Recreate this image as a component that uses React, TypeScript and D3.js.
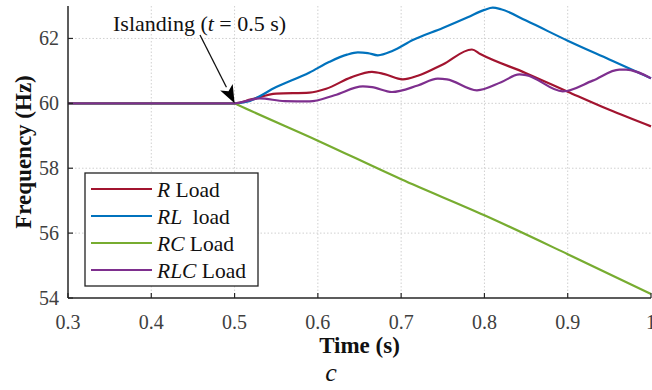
import React from "react";
import * as d3 from "d3";

// Frequency response after islanding for four load types
const tR = [0.3, 0.5, 0.52, 0.55, 0.59, 0.61, 0.64, 0.665, 0.68, 0.702, 0.72, 0.75, 0.785, 0.795, 0.85, 0.9, 0.95, 1.0];
const fR = [60, 60, 60.12, 60.3, 60.33, 60.45, 60.8, 60.97, 60.9, 60.74, 60.85, 61.2, 61.66, 61.52, 60.93, 60.36, 59.8, 59.29];

const tRL = [0.3, 0.5, 0.515, 0.55, 0.59, 0.614, 0.635, 0.648, 0.66, 0.672, 0.69, 0.714, 0.75, 0.78, 0.8, 0.81, 0.82, 0.85, 0.9, 0.95, 1.0];
const fRL = [60, 60, 60.05, 60.5, 60.95, 61.28, 61.5, 61.57, 61.55, 61.48, 61.62, 61.95, 62.32, 62.65, 62.88, 62.95, 62.9, 62.55, 61.93, 61.35, 60.77];

const tRC = [0.3, 0.5, 0.505, 0.6, 0.7, 0.8, 0.9, 1.0];
const fRC = [60, 60, 59.94, 58.85, 57.66, 56.55, 55.35, 54.12];

const tRLC = [0.3, 0.5, 0.53, 0.56, 0.59, 0.62, 0.654, 0.665, 0.689, 0.72, 0.744, 0.755, 0.791, 0.82, 0.842, 0.85, 0.894, 0.93, 0.962, 0.97, 1.0];
const fRLC = [60, 60, 60.15, 60.07, 60.06, 60.25, 60.52, 60.5, 60.35, 60.55, 60.76, 60.74, 60.4, 60.65, 60.89, 60.87, 60.37, 60.7, 61.04, 61.04, 60.77];

const xTicks = [0.3, 0.4, 0.5, 0.6, 0.7, 0.8, 0.9, 1];
const yTicks = [54, 56, 58, 60, 62];

const seriesNames = ["R", "RL", "RC", "RLC"];
const seriesSuffix = [" Load", "  load", " Load", " Load"];
const seriesColors = ["#A2142F", "#0072BD", "#77AC30", "#7E2F8E"];
const seriesT = [tR, tRL, tRC, tRLC];
const seriesF = [fR, fRL, fRC, fRLC];

const W = 652;
const H = 390;
const M = { left: 68, right: 651, top: 6, bottom: 298 };
const serif = "'Liberation Serif', 'Times New Roman', serif";

export default function App() {
  const x = d3.scaleLinear().domain([0.3, 1]).range([M.left, M.right]);
  const y = d3.scaleLinear().domain([54, 63]).range([M.bottom, M.top]);

  const line = d3
    .line<[number, number]>()
    .x((d) => x(d[0]))
    .y((d) => y(d[1]))
    .curve(d3.curveMonotoneX);

  const axisColor = "#262626";
  const tickColor = "#404040";

  // arrow from annotation to islanding instant
  const ax0 = 200, ay0 = 35;
  const ax1 = x(0.5), ay1 = y(60);
  const ang = Math.atan2(ay1 - ay0, ax1 - ax0);
  const headLen = 18, headW = 7;
  const bx = ax1 - headLen * Math.cos(ang);
  const by = ay1 - headLen * Math.sin(ang);
  const px = -Math.sin(ang) * headW;
  const py = Math.cos(ang) * headW;

  const legendRows = [189, 216, 243, 270];

  return (
    <svg width={W} height={H} style={{ display: "block", position: "absolute", left: 0, top: 0, background: "#fff" }}>
      <rect x={0} y={0} width={W} height={H} fill="#fff" />
      {/* grid */}
      {xTicks.slice(1, -1).map((t) => (
        <line key={"gx" + t} x1={x(t)} x2={x(t)} y1={M.top} y2={M.bottom} stroke="#d0d0d0" strokeWidth={1} strokeDasharray="1.5,2" />
      ))}
      {yTicks.slice(1).map((v) => (
        <line key={"gy" + v} x1={M.left} x2={M.right} y1={y(v)} y2={y(v)} stroke="#d0d0d0" strokeWidth={1} strokeDasharray="1.5,2" />
      ))}

      {/* series */}
      {seriesNames.map((n, i) => (
        <path
          key={n}
          d={line(seriesT[i].map((t, j) => [t, seriesF[i][j]] as [number, number])) || ""}
          fill="none"
          stroke={seriesColors[i]}
          strokeWidth={2.2}
          strokeLinejoin="round"
        />
      ))}

      {/* axes */}
      <line x1={M.left} x2={M.left} y1={M.top} y2={M.bottom} stroke={axisColor} strokeWidth={1.5} />
      <line x1={M.left} x2={M.right} y1={M.bottom} y2={M.bottom} stroke={axisColor} strokeWidth={1.5} />
      {xTicks.map((t) => (
        <g key={"xt" + t}>
          <line x1={x(t)} x2={x(t)} y1={M.bottom} y2={M.bottom - 5} stroke={axisColor} strokeWidth={1.2} />
          <text x={x(t)} y={M.bottom + 31} textAnchor="middle" fontFamily={serif} fontSize={20} fill={tickColor}>
            {d3.format("~g")(t)}
          </text>
        </g>
      ))}
      {yTicks.map((v) => (
        <g key={"yt" + v}>
          <line x1={M.left} x2={M.left + 5} y1={y(v)} y2={y(v)} stroke={axisColor} strokeWidth={1.2} />
          <text x={M.left - 9} y={y(v) + 7} textAnchor="end" fontFamily={serif} fontSize={20} fill={tickColor}>
            {v}
          </text>
        </g>
      ))}

      {/* axis titles */}
      <text x={(M.left + M.right) / 2} y={353} textAnchor="middle" fontFamily={serif} fontWeight="bold" fontSize={23} fill="#111">
        Time (s)
      </text>
      <text
        transform={`translate(31, ${(M.top + M.bottom) / 2}) rotate(-90)`}
        textAnchor="middle"
        fontFamily={serif}
        fontWeight="bold"
        fontSize={23}
        fill="#111"
      >
        Frequency (Hz)
      </text>
      <text x={331} y={381} textAnchor="middle" fontFamily={serif} fontStyle="italic" fontSize={26} fill="#111">
        c
      </text>

      {/* annotation */}
      <text x={113} y={31} fontFamily={serif} fontSize={22} fill="#111">
        Islanding (<tspan fontStyle="italic">t</tspan> = 0.5 s)
      </text>
      <line x1={ax0} y1={ay0} x2={bx} y2={by} stroke="#111" strokeWidth={1.3} />
      <path d={`M${ax1},${ay1} L${bx + px},${by + py} L${bx + (ax1 - bx) * 0.25},${by + (ay1 - by) * 0.25} L${bx - px},${by - py} Z`} fill="#000" />

      {/* legend */}
      <rect x={85} y={173} width={173} height={113} fill="#fff" stroke="#222" strokeWidth={1.3} />
      {seriesNames.map((n, i) => (
        <g key={"lg" + n}>
          <line x1={91} x2={152} y1={legendRows[i]} y2={legendRows[i]} stroke={seriesColors[i]} strokeWidth={2.2} />
          <text x={157} y={legendRows[i] + 7.5} fontFamily={serif} fontSize={21.5} fill="#111" style={{ whiteSpace: "pre" }}>
            <tspan fontStyle="italic">{n}</tspan>
            {seriesSuffix[i]}
          </text>
        </g>
      ))}
    </svg>
  );
}
